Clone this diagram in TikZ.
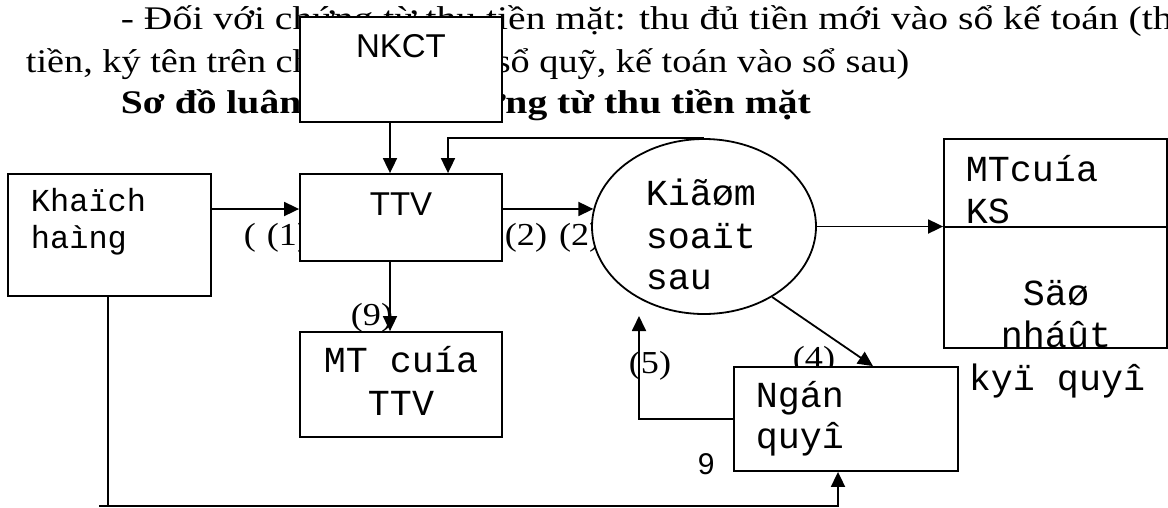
\documentclass[tikz,border=0pt]{standalone}
\usepackage{fontspec}
\setmainfont{Liberation Serif}
\newfontfamily\monof{Liberation Mono}
\newfontfamily\sansf{Liberation Sans}
\usetikzlibrary{arrows.meta,shapes.geometric}
\begin{document}
\begin{tikzpicture}[x=1pt,y=-1pt,
  line width=1.8pt,
  >={Triangle[length=15pt,width=14pt]},
  boxst/.style={draw, fill=white, rectangle, inner sep=0pt, line width=1.8pt},
  txt/.style={inner sep=0pt, anchor=base west, font=\fontsize{33}{40}\selectfont\addfontfeatures{FakeStretch=#1}},
  btxt/.style={inner sep=0pt, anchor=base west, font=\fontsize{33}{40}\selectfont\bfseries\addfontfeatures{FakeStretch=1.2}},
  lab/.style={inner sep=0pt, anchor=base west, font=\fontsize{32}{38}\selectfont\addfontfeatures{FakeStretch=1.13}},
  mono/.style={inner sep=0pt, anchor=base west, font=\fontsize{36.7}{42}\monof},
  monoc/.style={inner sep=0pt, anchor=base, font=\fontsize{36.7}{42}\monof},
  monos/.style={inner sep=0pt, anchor=base west, font=\fontsize{32}{37}\monof},
  sanc/.style={inner sep=0pt, anchor=base, font=\fontsize{33}{38}\sansf}
]
\useasboundingbox (0,0) rectangle (1168,507);
\clip (0,0) rectangle (1168,507);

% body text
\node[txt=1.2] (l1) at (120,29) {- Đối với chứng từ thu tiền mặt: thu đủ tiền mới vào sổ kế toán (thủ quỹ thu};
\node[txt=1.16] (l2) at (25,72) {tiền, ký tên trên chứng từ, vào sổ quỹ, kế toán vào sổ sau)};
\node[btxt] (l3) at (120,113) {Sơ đồ luân chuyển chứng từ thu tiền mặt};

% labels (partly covered by boxes)
\node[lab] (lab1) at (243,245) {(\hspace{11pt}(1)};
\node[lab] (lab2) at (504,245) {(2)\hspace{12pt}(2)};
\node[lab] (lab4) at (792,368) {(4)};
\node[lab] (lab5) at (628,373) {(5)};
\node[lab] (lab9) at (350,325) {(9)};
\node[inner sep=0pt, anchor=base west, font=\fontsize{30}{36}\sansf] (nine) at (697,474) {9};

% boxes
\node[boxst, minimum width=203pt, minimum height=122pt] (kh) at (109.5,235) {};
\node[boxst, minimum width=202pt, minimum height=105pt] (nkct) at (401,69.5) {};
\node[boxst, minimum width=202pt, minimum height=87pt] (ttv) at (401,217.5) {};
\node[boxst, minimum width=202pt, minimum height=105pt] (mt) at (401,384.5) {};
\node[draw, fill=white, ellipse, inner sep=0pt, minimum width=224pt, minimum height=175pt] (ell) at (704,226.5) {};
\node[boxst, minimum width=223pt, minimum height=209pt] (rb) at (1055.5,243.5) {};
\node[boxst, minimum width=224pt, minimum height=104pt] (ng) at (846,419) {};

% box texts
\node[monos] (khA) at (30,211) {Khaïch};
\node[monos] (khB) at (30,248) {haìng};
\node[sanc] (nkctT) at (401,57) {NKCT};
\node[sanc] (ttvT) at (401,215) {TTV};
\node[monoc] (mtA) at (401,372) {MT cuía};
\node[monoc] (mtB) at (401,415) {TTV};
\node[mono] (elA) at (645,205) {Kiãøm};
\node[mono] (elB) at (645,248) {soaït};
\node[mono] (elC) at (645,289) {sau};
\node[mono] (rbA) at (965,181) {MTcuía};
\node[mono] (rbB) at (965,223) {KS};
\node[monoc] (rbC) at (1056,305) {Säø};
\node[monoc] (rbD) at (1056,347) {nháût};
\node[monoc] (rbE) at (1057,390) {kyï quyî};
\node[mono] (ngA) at (755,407) {Ngán};
\node[mono] (ngB) at (755,448) {quyî};

% helper coordinates
\coordinate (xa) at (390,0);
\coordinate (xb) at (448,0);
\coordinate (ya) at (0,209);
\coordinate (yd) at (0,227);
\coordinate (x4) at (873,0);
\coordinate (y5) at (0,419);
\coordinate (c5) at (639,316);
\coordinate (xk) at (108,0);
\coordinate (bl) at (99,506);
\coordinate (br) at (838,506);

% divider of right box
\draw (rb.west |- yd) -- (rb.east |- yd);

% connectors
\draw[->] (nkct.south -| xa) -- (ttv.north -| xa);
\draw[->] (ell.north) -- (ell.north -| xb) -- (ttv.north -| xb);
\draw[->] (kh.east |- ya) -- (ttv.west |- ya);
\draw[->] (ttv.east |- ya) -- (ell.171);
\draw[->] (ell.east) -- (rb.west |- ell.east);
\draw[->] (ttv.south -| xa) -- (mt.north -| xa);
\draw[->] (ell.-46) -- (ng.north -| x4);
\draw[->] (ng.west |- y5) -- (c5 |- y5) -- (c5);
\draw (kh.south -| xk) -- (xk |- bl);
\draw[->] (bl) -- (br) -- (ng.south -| br);
\end{tikzpicture}
\end{document}
